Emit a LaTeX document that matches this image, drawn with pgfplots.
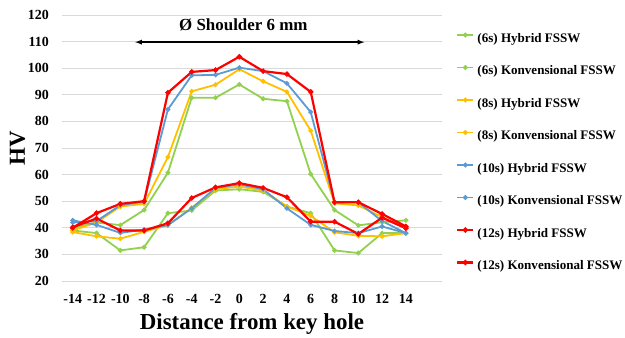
\documentclass[border=0pt]{standalone}
\usepackage{fontspec}
\setmainfont{Liberation Serif}
\usepackage{pgfplots}
\pgfplotsset{compat=1.18}
\definecolor{cgreen}{HTML}{92D050}
\definecolor{cyellow}{HTML}{FFC000}
\definecolor{cblue}{HTML}{5B9BD5}
\definecolor{cred}{HTML}{FF0000}
\definecolor{mA}{HTML}{5B7FA8}
\definecolor{mB}{HTML}{9C6A4A}
\definecolor{mC}{HTML}{8E6A7E}
\definecolor{mD}{HTML}{6A9AA0}
\definecolor{mE}{HTML}{3F5F8F}
\definecolor{mF}{HTML}{4E5A8A}
\definecolor{mG}{HTML}{7A3F5F}
\definecolor{mH}{HTML}{8A3F5A}
\begin{document}
\begin{tikzpicture}
\useasboundingbox (-62bp,-57bp) rectangle (563bp,281bp);
\begin{axis}[
  at={(0,0)}, anchor=south west,
  scale only axis, width=380bp, height=266bp,
  xmin=-14.9, xmax=17.03, ymin=20, ymax=120,
  xtick={-14,-12,...,14},
  xticklabels={-14,-12,-10,-8,-6,-4,-2,0,2,4,6,8,10,12,14},
  ytick={20,30,...,120},
  axis line style={draw=none},
  major tick length=0pt,
  ymajorgrids, grid style={color=black!15, line width=0.9bp},
  /pgf/number format/assume math mode=true,
  ticklabel style={font=\bfseries\fontsize{14}{14}\selectfont},
  yticklabel style={anchor=east, inner sep=0pt, xshift=-13bp},
  xticklabel style={anchor=north, inner sep=0pt, yshift=-13bp},
  xlabel={Distance from key hole},
  ylabel={HV},
  xlabel style={at={(axis description cs:0.5,-0.184)}, anchor=base, inner sep=0pt, font=\bfseries\fontsize{23}{23}\selectfont},
  ylabel style={at={(axis description cs:-0.0974,0.5)}, anchor=base, inner sep=0pt, font=\bfseries\fontsize{23}{23}\selectfont},
  legend style={draw=none, fill=none, at={(axis description cs:1.037,0.933)}, anchor=north west,
    inner sep=0pt, row sep=20.5bp, column sep=3bp,
    font=\bfseries\fontsize{13.1}{14}\selectfont,
    nodes={inner sep=0pt, text height=9bp, text depth=3bp}},
  legend cell align=left,
  legend image code/.code={\draw[#1,mark repeat=2,mark phase=2] plot coordinates {(0bp,4bp) (8bp,4bp) (16bp,4bp)};},
  every axis plot/.append style={line width=1.8bp, mark=*, mark size=1.4bp},
]
\addplot[color=cgreen, mark options={fill=mA, draw=none}] coordinates {(-14,40)(-12,42)(-10,41)(-8,46.7)(-6,60.7)(-4,88.9)(-2,88.9)(0,93.9)(2,88.5)(4,87.6)(6,60.2)(8,46.7)(10,40.9)(12,42.1)(14,42.8)};
\addlegendentry{(6s) Hybrid FSSW}
\addplot[color=cgreen, mark options={fill=mB, draw=none}] coordinates {(-14,39)(-12,38)(-10,31.5)(-8,32.7)(-6,45.5)(-4,46.5)(-2,54)(0,54.5)(2,53.5)(4,48)(6,45.5)(8,31.5)(10,30.5)(12,38)(14,38)};
\addlegendentry{(6s) Konvensional FSSW}
\addplot[color=cyellow, mark options={fill=mC, draw=none}] coordinates {(-14,39)(-12,42)(-10,48)(-8,49)(-6,66.6)(-4,91.3)(-2,93.8)(0,99.6)(2,95.1)(4,91.1)(6,76.5)(8,49.2)(10,48.4)(12,44)(14,40)};
\addlegendentry{(8s) Hybrid FSSW}
\addplot[color=cyellow, mark options={fill=mD, draw=none}] coordinates {(-14,38.4)(-12,36.8)(-10,35.9)(-8,38.5)(-6,41)(-4,47.5)(-2,54.5)(0,55.5)(2,54)(4,48)(6,44.5)(8,38.3)(10,37)(12,36.8)(14,38)};
\addlegendentry{(8s) Konvensional FSSW}
\addplot[color=cblue, mark options={fill=mE, draw=none}] coordinates {(-14,42)(-12,42.5)(-10,48.5)(-8,49.8)(-6,84.5)(-4,97.3)(-2,97.5)(0,100.2)(2,98.9)(4,94.3)(6,83.5)(8,49.6)(10,49.6)(12,42.5)(14,38)};
\addlegendentry{(10s) Hybrid FSSW}
\addplot[color=cblue, mark options={fill=mF, draw=none}] coordinates {(-14,42.8)(-12,41.1)(-10,38.1)(-8,39.3)(-6,41)(-4,47.3)(-2,55)(0,56.3)(2,54.5)(4,47.3)(6,41.1)(8,38.8)(10,38)(12,40.5)(14,38)};
\addlegendentry{(10s) Konvensional FSSW}
\addplot[color=cred, line width=2.2bp, mark options={fill=mG, draw=none}] coordinates {(-14,40)(-12,45.5)(-10,49)(-8,50)(-6,90.8)(-4,98.6)(-2,99.3)(0,104.3)(2,98.9)(4,97.8)(6,91.1)(8,49.6)(10,49.6)(12,45.2)(14,40.5)};
\addlegendentry{(12s) Hybrid FSSW}
\addplot[color=cred, line width=2.2bp, mark options={fill=mH, draw=none}] coordinates {(-14,40.2)(-12,43.5)(-10,39)(-8,39)(-6,41.7)(-4,51.2)(-2,55.2)(0,56.8)(2,55)(4,51.5)(6,42.3)(8,42.3)(10,37.7)(12,43.8)(14,39.8)};
\addlegendentry{(12s) Konvensional FSSW}
\draw[<->, >=latex, line width=1.3bp] (axis cs:-8.75,109.8) -- (axis cs:10.5,109.8);
\node[font=\bfseries\fontsize{17}{17}\selectfont, inner sep=0pt] at (axis cs:0.34,116.2) {Ø Shoulder 6 mm};
\end{axis}
\end{tikzpicture}
\end{document}
